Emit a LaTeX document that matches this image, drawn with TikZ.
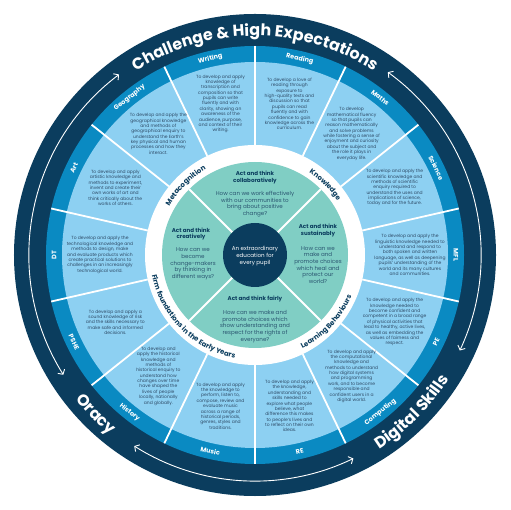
\documentclass[tikz,border=0pt]{standalone}
\usepackage{fontspec}
\setmainfont{Poppins}
\usetikzlibrary{decorations.text,arrows.meta}
\definecolor{navy}{HTML}{0B3D5E}
\definecolor{midblue}{HTML}{0A8AC2}
\definecolor{lightblue}{HTML}{8DD0F2}
\definecolor{myteal}{HTML}{80CEC4}
\definecolor{bodytext}{HTML}{2E4A66}
\definecolor{qtext}{HTML}{2A5570}
\tikzset{
  subj/.style={align=center, font=\fontsize{4.5}{5.4}\selectfont, text=bodytext, inner sep=0pt},
  lab/.style={font=\bfseries\fontsize{6.5}{7}\selectfont, text=white, inner sep=0pt},
  divider/.style={draw=white, line width=1.8bp},
  arr/.style={draw=white, line width=0.9bp, >={Straight Barb[length=3.5bp,width=8bp]}, <->},
  qtitle/.style={align=center, font=\bfseries\fontsize{5.6}{6.7}\selectfont, text=navy, inner sep=0pt},
  quest/.style={align=center, font=\fontsize{5.6}{6.7}\selectfont, text=qtext, inner sep=0pt},
}
\begin{document}
\begin{tikzpicture}[x=1bp,y=1bp]
\useasboundingbox (-255,-255) rectangle (255,255);
% rings
\fill[navy] (0,0) circle[radius=241];
\fill[midblue] (0,0) circle[radius=209];
\fill[lightblue] (0,0) circle[radius=193];
\fill[white] (0,0) circle[radius=110];
\fill[myteal] (0,0) circle[radius=93];
% subject dividers
\foreach \k in {0,...,13} {
  \draw[divider] ({90-\k*360/14}:110) -- ({90-\k*360/14}:209);
}
% teal dividers
\foreach \a in {45,135,225,315} {
  \draw[divider] (\a:32) -- (\a:93);
}
\fill[navy] (0,0) circle[radius=32];
\node[align=center, font=\fontsize{5.6}{6.7}\selectfont, text=white, inner sep=0pt] (core) at (0,-1) {An extraordinary\\education for\\every pupil};

% outer titles
\path[decorate, decoration={text along path, text align=center, text color=white,
  text={|\bfseries\fontsize{16}{16}\selectfont|Challenge {\&} High Expectations}}]
  (150:219) arc[start angle=150, end angle=30, radius=219];
\path[decorate, decoration={text along path, text align=center, text color=white,
  text={|\bfseries\fontsize{16}{16}\selectfont|Oracy}}]
  (195:230.5) arc[start angle=195, end angle=255, radius=230.5];
\path[decorate, decoration={text along path, text align=center, text color=white,
  text={|\bfseries\fontsize{16}{16}\selectfont|Digital Skills}}]
  (285:230.5) arc[start angle=285, end angle=345, radius=230.5];

% arrows
\draw[arr] (127:226) arc[start angle=127, end angle=212, radius=226];
\draw[arr] (54:226) arc[start angle=54, end angle=-25, radius=226];
\draw[arr] (237.7:226) arc[start angle=237.7, end angle=295.8, radius=226];

% white ring texts
\path[decorate, decoration={text along path, text align=center, text color=navy,
  text={|\bfseries\fontsize{7}{7}\selectfont|Metacognition}}]
  (175:98.5) arc[start angle=175, end angle=95, radius=98.5];
\path[decorate, decoration={text along path, text align=center, text color=navy,
  text={|\bfseries\fontsize{7}{7}\selectfont|Knowledge}}]
  (85:98.5) arc[start angle=85, end angle=5, radius=98.5];
\path[decorate, decoration={text along path, text align=center, text color=navy,
  text={|\bfseries\fontsize{7}{7}\selectfont|Learning Behaviours}}]
  (267:105) arc[start angle=267, end angle=367, radius=105];
\path[decorate, decoration={text along path, text align=center, text color=navy,
  text={|\bfseries\fontsize{7}{7}\selectfont|Firm foundations in the Early Years}}]
  (165:105) arc[start angle=165, end angle=285, radius=105];

% subject labels
\node[lab, rotate=77.143-90] (lreading) at (77.143:201) {Reading};
\node[lab, rotate=51.429-90] (lmaths) at (51.429:201) {Maths};
\node[lab, rotate=25.714-90] (lscience) at (25.714:201) {Science};
\node[lab, rotate=-90] (lmfl) at (0:201) {MFL};
\node[lab, rotate=-25.714+90] (lpe) at (-25.714:201) {PE};
\node[lab, rotate=-51.429+90] (lcomputing) at (-51.429:201) {Computing};
\node[lab, rotate=-77.143+90] (lre) at (-77.143:201) {RE};
\node[lab, rotate=-102.857+90] (lmusic) at (-102.857:201) {Music};
\node[lab, rotate=-128.571+90] (lhistory) at (-128.571:201) {History};
\node[lab, rotate=-154.286+90] (lpshe) at (-154.286:201) {PSHE};
\node[lab, rotate=90] (ldt) at (180:201) {DT};
\node[lab, rotate=154.286-90] (lart) at (154.286:201) {Art};
\node[lab, rotate=128.571-90] (lgeography) at (128.571:201) {Geography};
\node[lab, rotate=102.857-90] (lwriting) at (102.857:201) {Writing};

% subject texts
\node[subj] (twriting) at (102.857:155) {To develop and apply\\knowledge of\\transcription and\\composition so that\\pupils can write\\fluently and with\\clarity, showing an\\awareness of the\\audience, purpose,\\and context of their\\writing.};
\node[subj] (treading) at (77.143:155) {To develop a love of\\reading through\\exposure to\\high-quality texts and\\discussion so that\\pupils can read\\fluently and with\\confidence to gain\\knowledge across the\\curriculum.};
\node[subj] (tmaths) at (51.429:155) {To develop\\mathematical fluency\\so that pupils can\\reason mathematically\\and solve problems\\while fostering a sense of\\enjoyment and curiosity\\about the subject and\\the role it plays in\\everyday life.};
\node[subj] (tscience) at (25.714:155) {To develop and apply the\\scientific knowledge and\\methods of scientific\\enquiry required to\\understand the uses and\\implications of science,\\today and for the future.};
\node[subj] (tmfl) at (0:155) {To develop and apply the\\linguistic knowledge needed to\\understand and respond to\\both spoken and written\\language, as well as deepening\\pupils' understanding of the\\world and its many cultures\\and communities.};
\node[subj] (tpe) at (-25.714:155) {To develop and apply the\\knowledge needed to\\become confident and\\competent in a broad range\\of physical activities that\\lead to healthy, active lives,\\as well as embedding the\\values of fairness and\\respect.};
\node[subj] (tcomputing) at (-51.429:155) {To develop and apply\\the computational\\knowledge and\\methods to understand\\how digital systems\\and programming\\work, and to become\\responsible and\\confident users in a\\digital world.};
\node[subj] (tre) at (-77.143:155) {To develop and apply\\the knowledge,\\understanding and\\skills needed to\\explore what people\\believe, what\\difference this makes\\to people's lives and\\to reflect on their own\\ideas.};
\node[subj] (tmusic) at (-102.857:155) {To develop and apply\\the knowledge to\\perform, listen to,\\compose, review and\\evaluate music\\across a range of\\historical periods,\\genres, styles and\\traditions.};
\node[subj] (thistory) at (-128.571:155) {To develop and\\apply the historical\\knowledge and\\methods of\\historical enquiry to\\understand how\\changes over time\\have shaped the\\lives of people\\locally, nationally\\and globally.};
\node[subj] (tpshe) at (-154.286:155) {To develop and apply a\\sound knowledge of risk\\and the skills necessary to\\make safe and informed\\decisions.};
\node[subj] (tdt) at (180:155) {To develop and apply the\\technological knowledge and\\methods to design, make\\and evaluate products which\\create practical solutions to\\challenges in an increasingly\\technological world.};
\node[subj] (tart) at (154.286:155) {To develop and apply\\artistic knowledge and\\methods to experiment,\\invent and create their\\own works of art and\\think critically about the\\works of others.};
\node[subj] (tgeography) at (128.571:155) {To develop and apply the\\geographical knowledge\\and methods of\\geographical enquiry to\\understand the Earth's\\key physical and human\\processes and how they\\interact.};

% teal quadrants
\node[qtitle] (qt1) at (0,77.5) {Act and think\\collaboratively};
\node[quest] (qq1) at (0,51) {How can we work effectively\\with our communities to\\bring about positive\\change?};
\node[qtitle] (qt2) at (63,24.5) {Act and think\\sustainably};
\node[quest] (qq2) at (63,-10) {How can we\\make and\\promote choices\\which heal and\\protect our\\world?};
\node[qtitle] (qt3) at (-64,21) {Act and think\\creatively};
\node[quest] (qq3) at (-62,-9) {How can we\\become\\change-makers\\by thinking in\\different ways?};
\node[qtitle] (qt4) at (0,-44) {Act and think fairly};
\node[quest] (qq4) at (0,-71.5) {How can we make and\\promote choices which\\show understanding and\\respect for the rights of\\everyone?};
\end{tikzpicture}
\end{document}
